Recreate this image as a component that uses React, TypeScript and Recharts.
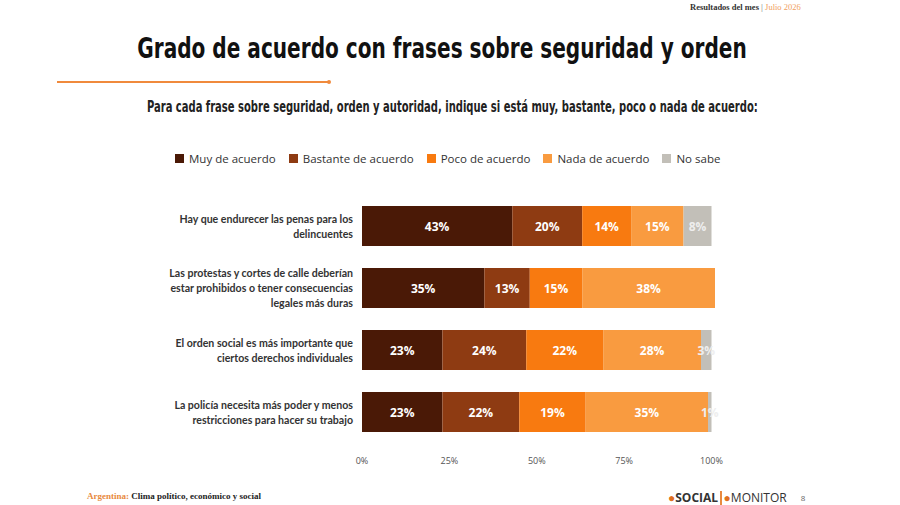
import React from 'react';
import { BarChart, Bar, XAxis, YAxis, LabelList } from 'recharts';

// frases (categorías), con saltos de línea como en el original
const frases = [
  'Hay que endurecer las penas para los\ndelincuentes',
  'Las protestas y cortes de calle deberían\nestar prohibidos o tener consecuencias\nlegales más duras',
  'El orden social es más importante que\nciertos derechos individuales',
  'La policía necesita más poder y menos\nrestricciones para hacer su trabajo',
];

const muyDeAcuerdo = [43, 35, 23, 23];
const bastanteDeAcuerdo = [20, 13, 24, 22];
const pocoDeAcuerdo = [14, 15, 22, 19];
const nadaDeAcuerdo = [15, 38, 28, 35];
const noSabe = [8, 0, 3, 1];

const xTicks = [0, 25, 50, 75, 100];

const SERIES = [
  { key: 'muy', name: 'Muy de acuerdo', color: '#4a1906', values: muyDeAcuerdo },
  { key: 'bastante', name: 'Bastante de acuerdo', color: '#8e3b12', values: bastanteDeAcuerdo },
  { key: 'poco', name: 'Poco de acuerdo', color: '#f87a10', values: pocoDeAcuerdo },
  { key: 'nada', name: 'Nada de acuerdo', color: '#f99b40', values: nadaDeAcuerdo },
  { key: 'nosabe', name: 'No sabe', color: '#c2bfb8', values: noSabe },
];

const data = frases.map((f, i) => {
  const row: any = { frase: f };
  SERIES.forEach(s => (row[s.key] = s.values[i]));
  return row;
});

const LABEL_FONT = '"Open Sans", "Liberation Sans", sans-serif';
const TICK_FONT = 'Lato, "Open Sans", sans-serif';
const HEAD_FONT = '"DejaVu Sans Condensed", "DejaVu Sans", sans-serif';

const FraseTick = ({ y, payload }: any) => {
  const lines = String(payload.value).split('\n');
  const lh = 15;
  const start = y - ((lines.length - 1) * lh) / 2;
  const right = 353;
  return (
    <text
      x={right}
      y={start}
      textAnchor="end"
      dominantBaseline="central"
      fill="#333"
      fontSize={10.6}
      fontWeight={700}
      fontFamily={TICK_FONT}
    >
      {lines.map((l, i) => (
        <tspan key={i} x={right} y={start + i * lh}>
          {l}
        </tspan>
      ))}
    </text>
  );
};

// etiqueta centrada, también para segmentos de 0%
const makeLabel = (fill: string) => (props: any) => {
  const { x, y, width, height, value } = props;
  return (
    <text
      x={Number(x) + Number(width) / 2}
      y={Number(y) + Number(height) / 2}
      textAnchor="middle"
      dominantBaseline="central"
      fill={fill}
      fontSize={12}
      fontWeight={700}
      fontFamily={LABEL_FONT}
    >
      {`${value}%`}
    </text>
  );
};

export default function App() {
  return (
    <div style={{ position: 'absolute', left: 0, top: 0, width: 900, height: 505, background: '#fff', overflow: 'hidden' }}>
      <div
        style={{
          position: 'absolute', top: 2, left: 690, fontFamily: '"Liberation Serif", serif',
          fontSize: 8.5, fontWeight: 700, color: '#333', whiteSpace: 'nowrap',
        }}
      >
        Resultados del mes <span style={{ color: '#999' }}>|</span>{' '}
        <span style={{ color: '#f0a060', fontWeight: 400 }}>Julio 2026</span>
      </div>

      <div
        style={{
          position: 'absolute', top: 31, left: 0, width: 884, textAlign: 'center',
          fontFamily: HEAD_FONT, fontWeight: 700, fontSize: 29, color: '#111',
          transform: 'scaleX(0.77)', transformOrigin: '442px 0',
        }}
      >
        Grado de acuerdo con frases sobre seguridad y orden
      </div>

      <div style={{ position: 'absolute', top: 81, left: 57, width: 272, height: 1.5, background: '#f08a3c' }} />
      <div style={{ position: 'absolute', top: 79.5, left: 327, width: 4, height: 4, borderRadius: 2, background: '#f08a3c' }} />

      <div
        style={{
          position: 'absolute', top: 98, left: 0, width: 905, textAlign: 'center',
          fontFamily: HEAD_FONT, fontWeight: 700, fontSize: 15, color: '#222',
          transform: 'scaleX(0.74)', transformOrigin: '452px 0',
        }}
      >
        Para cada frase sobre seguridad, orden y autoridad, indique si está muy, bastante, poco o nada de acuerdo:
      </div>

      <div
        style={{
          position: 'absolute', top: 151, left: 175, display: 'flex', alignItems: 'center',
          fontFamily: LABEL_FONT, fontSize: 11.5, color: '#333', whiteSpace: 'nowrap',
        }}
      >
        {SERIES.map(s => (
          <div key={s.key} style={{ display: 'flex', alignItems: 'center', marginRight: 13 }}>
            <span style={{ width: 9, height: 9, background: s.color, display: 'inline-block', marginRight: 5 }} />
            <span>{s.name}</span>
          </div>
        ))}
      </div>

      <div style={{ position: 'absolute', left: 0, top: 0 }}>
        <BarChart
          width={900}
          height={505}
          data={data}
          layout="vertical"
          margin={{ top: 195, right: 185, bottom: 32, left: 0 }}
          barSize={40}
        >
          <XAxis
            type="number"
            domain={[0, 100]}
            ticks={xTicks}
            tickFormatter={(v: number) => `${v}%`}
            axisLine={false}
            tickLine={false}
            tick={{ fill: '#555', fontSize: 9, fontFamily: LABEL_FONT }}
            tickMargin={9}
            height={30}
            interval={0}
          />
          <YAxis
            type="category"
            dataKey="frase"
            width={362}
            axisLine={false}
            tickLine={false}
            tick={<FraseTick />}
            interval={0}
          />
          {SERIES.map(s => (
            <Bar key={s.key} dataKey={s.key} name={s.name} stackId="a" fill={s.color} isAnimationActive={false}>
              <LabelList
                dataKey={s.key}
                content={makeLabel(s.key === 'nosabe' ? '#eee' : '#fff')}
              />
            </Bar>
          ))}
        </BarChart>
      </div>

      <div
        style={{
          position: 'absolute', top: 491, left: 87, fontFamily: '"Liberation Serif", serif',
          fontSize: 9, whiteSpace: 'nowrap',
        }}
      >
        <span style={{ color: '#e88a40', fontWeight: 700 }}>Argentina: </span>
        <span style={{ color: '#222', fontWeight: 700 }}>Clima político, económico y social</span>
      </div>

      <div
        style={{
          position: 'absolute', top: 489, left: 668, fontFamily: LABEL_FONT, fontSize: 12,
          color: '#333', whiteSpace: 'nowrap', display: 'flex', alignItems: 'center',
        }}
      >
        <span style={{ fontWeight: 700 }}>
          <span style={{ color: '#e07020' }}>●</span>SOCIAL
        </span>
        <span style={{ display: 'inline-block', width: 1.5, height: 14, background: '#e88a40', margin: '0 2px' }} />
        <span>
          <span style={{ color: '#e07020' }}>●</span>MONITOR
        </span>
        <span style={{ marginLeft: 14, fontSize: 8, color: '#666' }}>8</span>
      </div>
    </div>
  );
}
